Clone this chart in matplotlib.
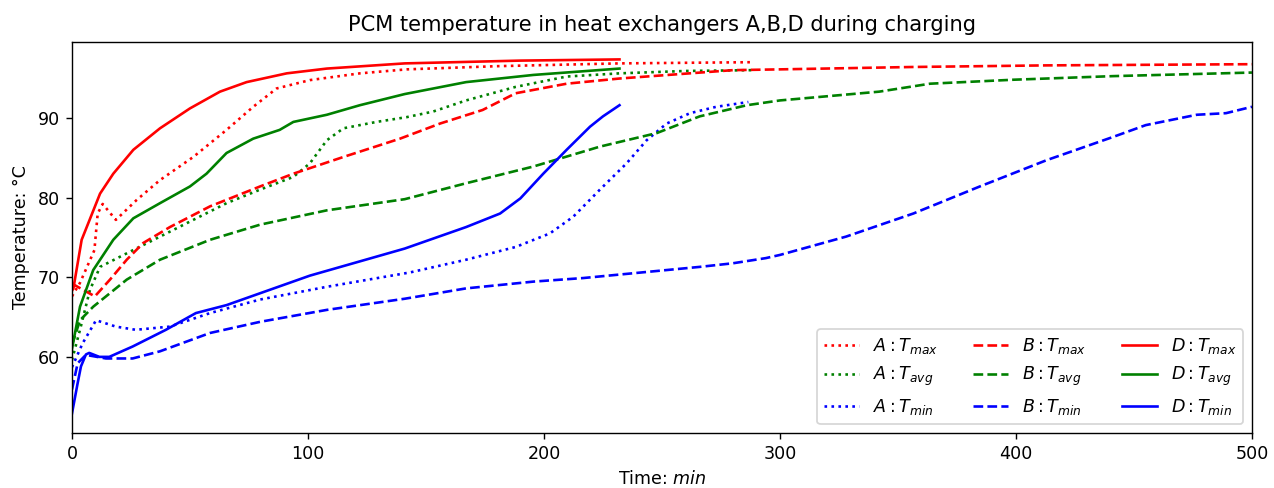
import matplotlib
matplotlib.use("Agg")
import matplotlib.pyplot as plt

# ---- Heat exchanger A (dotted) ----
tA_max = [0, 3.4, 9.5, 10.9, 13, 18.6, 27.4, 37.3, 51.4, 65.5, 76.8, 86.7, 100.8, 122, 141.8, 180, 232, 288]
A_max = [67.6, 69.3, 73.4, 78.0, 79.2, 77.2, 79.7, 82.2, 85.1, 88.5, 91.4, 93.7, 94.75, 95.6, 96.1, 96.5, 96.85, 97.0]

tA_avg = [0, 3.4, 7.6, 11.9, 23.2, 37.3, 51.4, 65.5, 79.7, 93.8, 100.8, 108, 115, 129, 141.8, 153, 167, 188, 209.6, 232, 260, 288]
A_avg = [59.6, 63.4, 68.4, 71.3, 73.0, 75.1, 77.2, 79.3, 81.0, 82.6, 84.3, 87.2, 88.7, 89.5, 90.1, 90.8, 92.2, 93.9, 95.2, 95.6, 95.9, 96.0]

tA_min = [0, 4.5, 10.2, 18.6, 27, 41.5, 58.5, 79.7, 108, 143.2, 167, 188, 202.5, 212.4, 223.7, 235, 243.5, 252, 261.9, 273, 286.6]
A_min = [58.7, 61.7, 64.6, 63.8, 63.4, 63.8, 65.5, 67.2, 68.8, 70.6, 72.2, 73.8, 75.5, 77.6, 81.0, 84.3, 87.2, 89.3, 90.6, 91.4, 92.0]

# ---- Heat exchanger B (dashed) ----
tB_max = [0, 4.8, 9.7, 16.1, 23.2, 30.2, 41.5, 58.5, 79.7, 93.8, 115, 139, 156, 174, 188, 209.6, 232, 280, 300, 356.5, 413, 500]
B_max = [69.2, 68.4, 67.6, 69.7, 72.2, 74.3, 76.3, 78.9, 81.4, 83.0, 85.1, 87.4, 89.3, 91.0, 93.1, 94.3, 94.95, 96.0, 96.1, 96.4, 96.6, 96.75]

tB_avg = [0, 3.4, 9, 23.2, 37.3, 58.5, 79.7, 108, 141, 167, 195.5, 223.7, 247.8, 266, 286, 300, 342, 363.6, 399, 441, 500]
B_avg = [61.5, 64.6, 66.3, 69.7, 72.2, 74.7, 76.6, 78.4, 79.8, 81.8, 83.9, 86.4, 88.1, 90.2, 91.6, 92.2, 93.3, 94.3, 94.8, 95.25, 95.7]

tB_min = [0, 2.4, 5.9, 14.4, 25.7, 37.3, 58.5, 79.7, 108, 141, 167, 195.5, 216.7, 237.8, 266, 280, 294, 300, 328, 356.5, 384.7, 413, 441, 455, 476.6, 489, 500]
B_min = [55.9, 59.2, 60.25, 59.8, 59.8, 60.7, 63.0, 64.4, 65.9, 67.3, 68.6, 69.45, 69.9, 70.5, 71.3, 71.75, 72.4, 72.8, 75.1, 78.0, 81.4, 84.7, 87.6, 89.1, 90.4, 90.6, 91.4]

# ---- Heat exchanger D (solid) ----
tD_max = [0, 0.6, 4.1, 11.9, 17.5, 26, 37.3, 50, 62.7, 74, 91, 108, 141, 190, 232]
D_max = [68.3, 68.6, 74.7, 80.5, 83.0, 86.0, 88.7, 91.2, 93.3, 94.5, 95.6, 96.2, 96.85, 97.2, 97.35]

tD_avg = [0, 3.4, 9, 17.5, 26, 37.3, 50, 57, 65.5, 76.8, 88, 93.8, 108, 122, 141, 167, 195.5, 232]
D_avg = [61.0, 66.3, 70.9, 74.7, 77.4, 79.3, 81.4, 83.0, 85.6, 87.4, 88.5, 89.5, 90.4, 91.6, 93.0, 94.5, 95.4, 96.2]

tD_min = [0, 2.4, 3.8, 5.9, 7.3, 11.6, 15.8, 25.7, 39.8, 52.5, 65.5, 100.8, 141, 167, 181.4, 190, 199.7, 209.6, 219.5, 225, 232]
D_min = [52.9, 56.7, 58.8, 60.3, 60.5, 60.0, 60.0, 61.3, 63.4, 65.5, 66.5, 70.2, 73.6, 76.3, 78.0, 79.9, 83.0, 86.0, 88.9, 90.2, 91.6]

DPI = 126
fig = plt.figure(figsize=(1274 / DPI, 488 / DPI), dpi=DPI)
ax = fig.add_axes([0.0565, 0.113, 0.9262, 0.801])

ax.plot(tA_max, A_max, 'r:', label=r'$A: T_{max}$')
ax.plot(tA_avg, A_avg, 'g:', label=r'$A: T_{avg}$')
ax.plot(tA_min, A_min, 'b:', label=r'$A: T_{min}$')
ax.plot(tB_max, B_max, 'r--', label=r'$B: T_{max}$')
ax.plot(tB_avg, B_avg, 'g--', label=r'$B: T_{avg}$')
ax.plot(tB_min, B_min, 'b--', label=r'$B: T_{min}$')
ax.plot(tD_max, D_max, 'r-', label=r'$D: T_{max}$')
ax.plot(tD_avg, D_avg, 'g-', label=r'$D: T_{avg}$')
ax.plot(tD_min, D_min, 'b-', label=r'$D: T_{min}$')

ax.set_xlim(0, 500)
ax.set_ylim(50.46, 99.54)
ax.set_title('PCM temperature in heat exchangers A,B,D during charging')
ax.set_xlabel('Time: $min$')
ax.set_ylabel('Temperature: °C')
ax.legend(ncol=3, loc='lower right')

fig.savefig('out.png', dpi=DPI)
